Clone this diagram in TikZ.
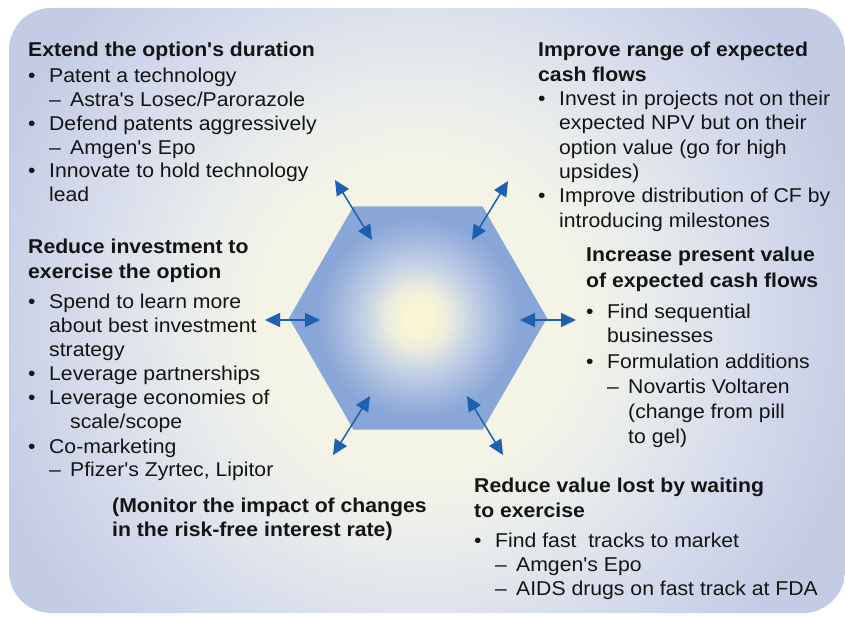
\documentclass[tikz,border=0pt]{standalone}
\usepackage{fontspec}
\setmainfont{Liberation Sans}[FakeStretch=1.06,Ligatures=TeXOff]
\usetikzlibrary{arrows.meta}

\definecolor{bgcore}{RGB}{244,244,230}
\definecolor{bglight}{RGB}{232,236,236}
\definecolor{bgmid}{RGB}{214,220,236}
\definecolor{bgedge}{RGB}{196,204,229}
\definecolor{hexcore}{RGB}{250,245,210}
\definecolor{hexpale}{RGB}{236,237,222}
\definecolor{hexmid}{RGB}{198,211,230}
\definecolor{hexsoft}{RGB}{163,185,222}
\definecolor{hexedge}{RGB}{136,166,215}
\definecolor{arrowblue}{RGB}{30,96,176}
\definecolor{ink}{RGB}{20,20,20}

% soft glow behind everything; 25bp = radius of the shaded circle (560pt)
\pgfdeclareradialshading{bgglow}{\pgfpoint{0bp}{0bp}}{%
  color(0bp)=(bgcore); color(7bp)=(bgcore); color(10.5bp)=(bglight);
  color(15bp)=(bgmid); color(20bp)=(bgedge); color(50bp)=(bgedge)}
% glow inside the hexagon; 25bp = radius of the shaded circle (140pt)
\pgfdeclareradialshading{hexglow}{\pgfpoint{0bp}{0bp}}{%
  color(0bp)=(hexcore); color(2.5bp)=(hexcore); color(5.5bp)=(hexpale);
  color(9.5bp)=(hexmid); color(14bp)=(hexsoft); color(18bp)=(hexedge);
  color(50bp)=(hexedge)}

% list helpers
\newcommand\pitem[1]{\makebox[21pt][l]{\textbullet}#1}
\newcommand\psub[1]{\hspace*{21pt}\makebox[21pt][l]{–}#1}
\newcommand\pcont[1]{\hspace*{21pt}#1}
\newcommand\psubcont[1]{\hspace*{42pt}#1}
\newcommand\blk[2]{\begin{minipage}[t]{400pt}\fontsize{20}{#1}\selectfont\raggedright #2\end{minipage}}

\begin{document}
\begin{tikzpicture}[x=1pt,y=-1pt,
  txt/.style={inner sep=0pt, anchor=base west, text=ink},
  conn/.style={draw=arrowblue, fill=arrowblue, line width=1.5pt,
    {Triangle[length=15pt,width=14pt]}-{Triangle[length=15pt,width=14pt]}}]
\useasboundingbox (0,0) rectangle (845,617);

% rounded backdrop
\begin{scope}
  \clip[rounded corners=42pt] (9,8) rectangle (845,613);
  \shade[shading=bgglow] (418,318) circle[radius=560pt];
\end{scope}

% central hexagon
\coordinate (hc) at (418,318);
\begin{scope}
  \clip (547,318) -- (482.5,206.3) -- (353.5,206.3) -- (289,318)
        -- (353.5,429.7) -- (482.5,429.7) -- cycle;
  \shade[shading=hexglow] (hc) circle[radius=140pt];
\end{scope}

% arrow end points
\coordinate (tlout) at (335,180);  \coordinate (tlin) at (372,240);
\coordinate (trout) at (508,181);  \coordinate (trin) at (472,240);
\coordinate (lout)  at (265,320);  \coordinate (lin)  at (320,320);
\coordinate (rout)  at (576,320);  \coordinate (rin)  at (520,320);
\coordinate (blout) at (333,455);  \coordinate (blin) at (370,396);
\coordinate (brout) at (503,455);  \coordinate (brin) at (467,396);

\draw[conn] (tlout) -- (tlin);
\draw[conn] (trout) -- (trin);
\draw[conn] (lout) -- (lin);
\draw[conn] (rout) -- (rin);
\draw[conn] (blout) -- (blin);
\draw[conn] (brout) -- (brin);

% text blocks
\node[txt] (duration) at (28,57) {\blk{23.8pt}{%
  \textbf{Extend the option's duration}\\[2pt]
  \pitem{Patent a technology}\\
  \psub{Astra's Losec/Parorazole}\\
  \pitem{Defend patents aggressively}\\
  \psub{Amgen's Epo}\\
  \pitem{Innovate to hold technology}\\
  \pcont{lead}}};

\node[txt] (range) at (538,57) {\blk{24.3pt}{%
  \textbf{Improve range of expected}\\
  \textbf{cash flows}\\
  \pitem{Invest in projects not on their}\\
  \pcont{expected NPV but on their}\\
  \pcont{option value (go for high}\\
  \pcont{upsides)}\\
  \pitem{Improve distribution of CF by}\\
  \pcont{introducing milestones}}};

\node[txt] (present) at (586,262) {\blk{25pt}{%
  \textbf{Increase present value}\\
  \textbf{of expected cash flows}\\[6pt]
  \pitem{Find sequential}\\
  \pcont{businesses}\\
  \pitem{Formulation additions}\\
  \psub{Novartis Voltaren}\\
  \psubcont{(change from pill}\\
  \psubcont{to gel)}}};

\node[txt] (investment) at (28,254) {\blk{24pt}{%
  \textbf{Reduce investment to}\\[1pt]
  \textbf{exercise the option}\\[6pt]
  \pitem{Spend to learn more}\\
  \pcont{about best investment}\\
  \pcont{strategy}\\
  \pitem{Leverage partnerships}\\
  \pitem{Leverage economies of}\\
  \psubcont{scale/scope}\\
  \pitem{Co-marketing}\\
  \psub{Pfizer's Zyrtec, Lipitor}}};

\node[txt] (monitor) at (112,512) {\blk{24pt}{%
  \textbf{(Monitor the impact of changes}\\
  \textbf{in the risk-free interest rate)}}};

\node[txt] (waiting) at (474,492) {\blk{24pt}{%
  \textbf{Reduce value lost by waiting}\\[1pt]
  \textbf{to exercise}\\[6pt]
  \pitem{Find fast\ \ tracks to market}\\
  \psub{Amgen's Epo}\\
  \psub{AIDS drugs on fast track at FDA}}};
\end{tikzpicture}
\end{document}
